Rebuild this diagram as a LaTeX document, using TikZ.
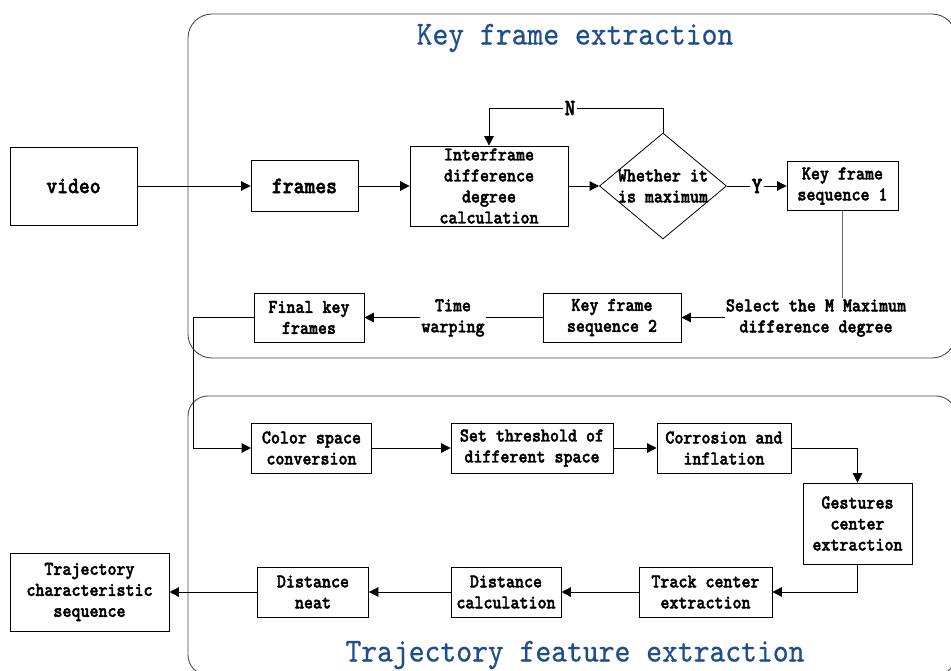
\documentclass[tikz,border=0pt]{standalone}
\usepackage{fontspec}
\newfontfamily\bodyfont[FakeStretch=0.88,FakeBold=2]{lmmonolt10-bold.otf}
\newfontfamily\titlefont[FakeStretch=0.9,FakeBold=0.6]{lmmono10-regular.otf}
\usetikzlibrary{arrows.meta,shapes.geometric}
\definecolor{titleblue}{HTML}{1F4E8C}
\begin{document}
\begin{tikzpicture}[x=1pt,y=-1pt,
  box/.style={draw=black,line width=0.8pt,inner sep=0pt,align=center,
    font=\bodyfont\fontsize{19.5}{21}\selectfont},
  bigbox/.style={box,font=\bodyfont\fontsize{23.5}{25}\selectfont},
  txt/.style={inner sep=1pt,align=center,font=\bodyfont\fontsize{19.5}{21}\selectfont},
  yn/.style={inner sep=1pt,fill=white,font=\bodyfont\fontsize{23}{25}\selectfont},
  conn/.style={line width=0.8pt,draw=black},
  arr/.style={conn,-{Triangle[length=9.5pt,width=9.5pt]}},
  container/.style={draw=black!70,line width=0.9pt,rounded corners=24pt},
  ttl/.style={text=titleblue,font=\titlefont\fontsize{33.5}{36}\selectfont,inner sep=0pt}
]
\useasboundingbox (0,0) rectangle (951,671);
\fill[white] (0,0) rectangle (951,671);
% containers
\draw[container] (188,14) rectangle (956,358);
\draw[container,rounded corners=20pt] (188,396) rectangle (956,675);
\node[ttl] (t1) at (575,38) {Key frame extraction};
\node[ttl] (t2) at (575,655) {Trajectory feature extraction};
% top row
\node[bigbox,minimum width=127,minimum height=78] (video) at (73.5,186) {video};
\node[bigbox,minimum width=107,minimum height=51] (frames) at (304.5,186) {frames};
\node[box,minimum width=158,minimum height=80] (inter) at (489,186) {Interframe\\difference\\degree\\calculation};
\node[draw=black,line width=0.8pt,diamond,minimum width=127,minimum height=106,inner sep=0pt] (dia) at (663,186) {};
\node[txt,inner sep=0pt] (diat) at (663,186) {Whether it\\is maximum};
\node[box,minimum width=111,minimum height=49] (kfs1) at (842.5,186) {Key frame\\sequence 1};
\node[yn] (nlab) at (570,108) {N};
\node[yn] (ylab) at (757,186) {Y};
% second row
\node[txt] (sel) at (816,318) {Select the M Maximum\\difference degree};
\node[box,minimum width=138,minimum height=49] (kfs2) at (612,317.5) {Key frame\\sequence 2};
\node[txt] (tw) at (453,318) {Time\\warping};
\node[box,minimum width=110,minimum height=49] (fkf) at (309,317.5) {Final key\\frames};
% bottom part
\node[box,minimum width=120,minimum height=50] (csc) at (311.5,448) {Color space\\conversion};
\node[box,minimum width=162,minimum height=50] (sto) at (532,448) {Set threshold of\\different space};
\node[box,minimum width=134,minimum height=50] (cai) at (724,448) {Corrosion and\\inflation};
\node[box,minimum width=109,minimum height=81] (gce) at (857.5,523.5) {Gestures\\center\\extraction};
\node[box,minimum width=133,minimum height=50] (tce) at (705.5,592) {Track center\\extraction};
\node[box,minimum width=110,minimum height=50] (dc) at (506,592) {Distance\\calculation};
\node[box,minimum width=111,minimum height=50] (dn) at (313,592) {Distance\\neat};
\node[box,minimum width=159,minimum height=78] (tcs) at (89.5,592) {Trajectory\\characteristic\\sequence};
\coordinate (bend) at (193,448);
% connectors
\draw[arr] (video) -- (frames);
\draw[arr] (frames) -- (inter);
\draw[arr] (inter) -- (dia);
\draw[conn] (dia.east) -- (ylab.west);
\draw[arr] (ylab.east) -- (kfs1.west);
\draw[conn] (dia.north) |- (nlab.east);
\draw[arr] (nlab.west) -| (inter.north);
\draw[conn,draw=black!60] (kfs1.south) -- (kfs1.south |- sel.north);
\draw[arr] (sel.west |- kfs2.east) -- (kfs2.east);
\draw[conn] (kfs2.west) -- (tw.east |- kfs2.west);
\draw[arr] (tw.west |- fkf.east) -- (fkf.east);
\draw[arr] (fkf.west) -| (bend) -- (csc.west);
\draw[arr] (csc) -- (sto);
\draw[arr] (sto) -- (cai);
\draw[arr] (cai.east) -| (gce.north);
\draw[arr] (gce.south) |- (tce.east);
\draw[arr] (tce) -- (dc);
\draw[arr] (dc) -- (dn);
\draw[arr] (dn) -- (tcs);
\end{tikzpicture}
\end{document}
